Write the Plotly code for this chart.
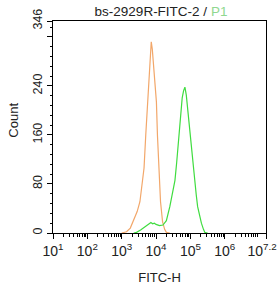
import numpy as np
import plotly.graph_objects as go

# Histogram curves (x as log10 of FITC-H, y = count)
iso_log = [3.00, 3.14, 3.25, 3.33, 3.45, 3.53, 3.60, 3.65, 3.70, 3.75, 3.80, 3.83, 3.86,
           3.89, 3.92, 3.95, 3.98, 4.01, 4.04, 4.08, 4.13, 4.19, 4.25, 4.30, 4.40]
iso_cnt = [0, 2, 8, 18, 35, 51, 80, 106, 160, 214, 269, 295, 312,
           300, 280, 262, 240, 214, 160, 106, 51, 18, 6, 1, 0]

ab_log = [3.35, 3.43, 3.55, 3.65, 3.72, 3.80, 3.85, 3.90, 3.95, 4.00, 4.10, 4.20, 4.30,
          4.40, 4.48, 4.55, 4.60, 4.64, 4.68, 4.71, 4.76, 4.80, 4.84, 4.88, 4.93, 4.98,
          5.03, 5.08, 5.13, 5.17, 5.21, 5.27, 5.32, 5.38, 5.42, 5.50]
ab_cnt = [0, 1, 5, 9, 12, 15, 17, 15, 16, 14, 12, 13, 20,
          43, 65, 86, 115, 141, 170, 195, 220, 232, 238, 225, 195, 168,
          141, 112, 86, 62, 43, 25, 16, 6, 1, 0]

x_tick_exp = ["1", "2", "3", "4", "5", "6", "7.2"]
y_tickvals = [0, 80, 160, 240, 320, 346]
y_ticktext = ["0", "80", "160", "240", "", "346"]

ORANGE = "#F2A76A"
GREEN = "#3FDC3F"

fig = go.Figure()
fig.add_trace(go.Scatter(x=10 ** np.array(iso_log), y=iso_cnt, mode="lines",
                         line=dict(color=ORANGE, width=1.2), showlegend=False))
fig.add_trace(go.Scatter(x=10 ** np.array(ab_log), y=ab_cnt, mode="lines",
                         line=dict(color=GREEN, width=1.2), showlegend=False))

xt = [10 ** float(e) * 0.9999 if e == "7.2" else 10 ** float(e) for e in x_tick_exp]
xtext = ["10<sup>%s</sup>" % e for e in x_tick_exp]
xtext[-1] = xtext[-1] + "&nbsp;&nbsp;"
minor_x = [m * 10 ** d for d in range(1, 7) for m in range(2, 10) if m * 10 ** d < 10 ** 7.2]
minor_y = [v for v in range(0, 346, 16) if v % 80 != 0]

FAM = "Liberation Sans, Arial"
font = dict(family=FAM, size=13, color="#222")
fig.update_layout(
    width=280, height=286,
    margin=dict(l=53, r=14, t=21, b=53),
    paper_bgcolor="white", plot_bgcolor="white",
    font=font,
    title=dict(text="bs-2929R-FITC-2 / <span style='color:#8FD88F'>P1</span>",
               x=0.575, xanchor="center", y=0.962, yanchor="middle",
               font=dict(family=FAM, size=13.5, color="#222")),
    xaxis=dict(type="log", range=[1, 7.2], showgrid=False, zeroline=False,
               automargin=False,
               showline=True, linecolor="black", linewidth=1, mirror=True,
               ticks="outside", ticklen=5, tickcolor="black",
               tickvals=xt, ticktext=xtext,
               ticklabeloverflow="allow",
               minor=dict(tickvals=minor_x, ticks="outside", ticklen=2.5, tickcolor="black", showgrid=False),
               title=dict(text="FITC-H", font=font),
               tickfont=dict(family=FAM, size=14, color="#222")),
    yaxis=dict(range=[0, 346], showgrid=False, zeroline=False,
               automargin=False,
               showline=True, linecolor="black", linewidth=1, mirror=True,
               ticks="outside", ticklen=5, tickcolor="black",
               tickvals=y_tickvals, ticktext=y_ticktext, tickangle=-90,
               minor=dict(tickvals=minor_y, ticks="outside", ticklen=2.5, tickcolor="black", showgrid=False),
               tickfont=dict(family=FAM, size=12.5, color="#222")),
)
fig.add_annotation(text="Count", xref="paper", yref="paper", x=(14 - 53) / 213, y=0.53,
                   xanchor="center", yanchor="middle", textangle=-90, showarrow=False, font=font)
fig.write_html("out.html")
